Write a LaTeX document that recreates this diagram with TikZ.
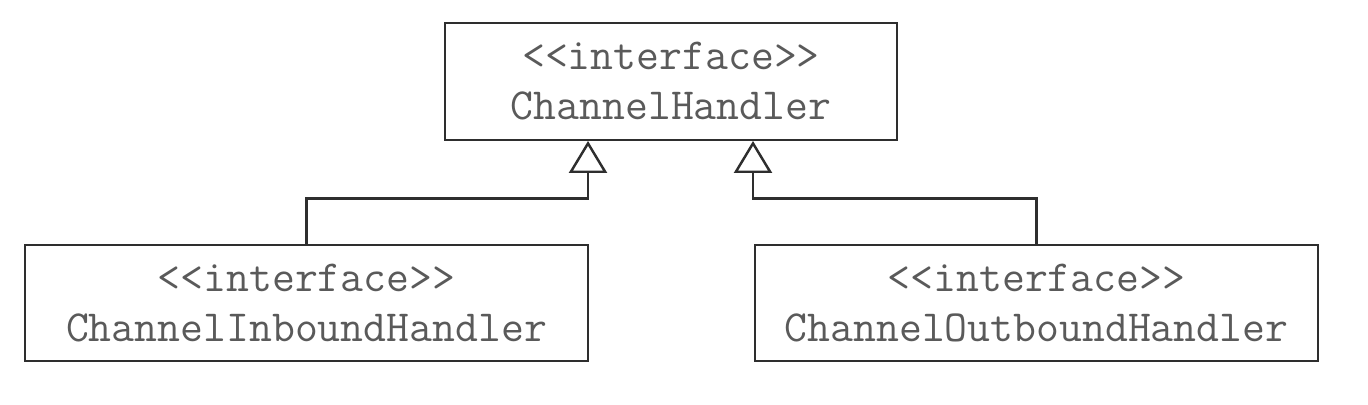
\documentclass[tikz,border=0pt]{standalone}
\usetikzlibrary{arrows.meta}
\definecolor{linegray}{HTML}{2E2E2E}
\definecolor{textgray}{HTML}{5A5A5A}
\begin{document}
\begin{tikzpicture}[
    iface/.style={draw=linegray, line width=1.4pt, minimum height=2.33cm, align=center,
        text=textgray, font=\ttfamily\fontsize{25.3}{28.5}\selectfont, inner sep=0pt},
    realize/.style={draw=linegray, line width=1.4pt,
        -{Triangle[open, width=0.76cm, length=0.64cm, fill=white]}}
]
    \useasboundingbox (0, 0) rectangle (27.36, 8.08);
    \node[iface, minimum width=9.04cm] (handler) at (13.42, 6.45) {<{}<interface>{}>\\ChannelHandler};
    \node[iface, minimum width=11.26cm] (inbound) at (6.13, 2.02) {<{}<interface>{}>\\ChannelInboundHandler};
    \node[iface, minimum width=11.26cm] (outbound) at (20.73, 2.02) {<{}<interface>{}>\\ChannelOutboundHandler};
    \draw[realize] (inbound.north) -- ++(0, 0.9) -| ([xshift=-1.66cm]handler.south);
    \draw[realize] (outbound.north) -- ++(0, 0.9) -| ([xshift=1.64cm]handler.south);
\end{tikzpicture}
\end{document}
